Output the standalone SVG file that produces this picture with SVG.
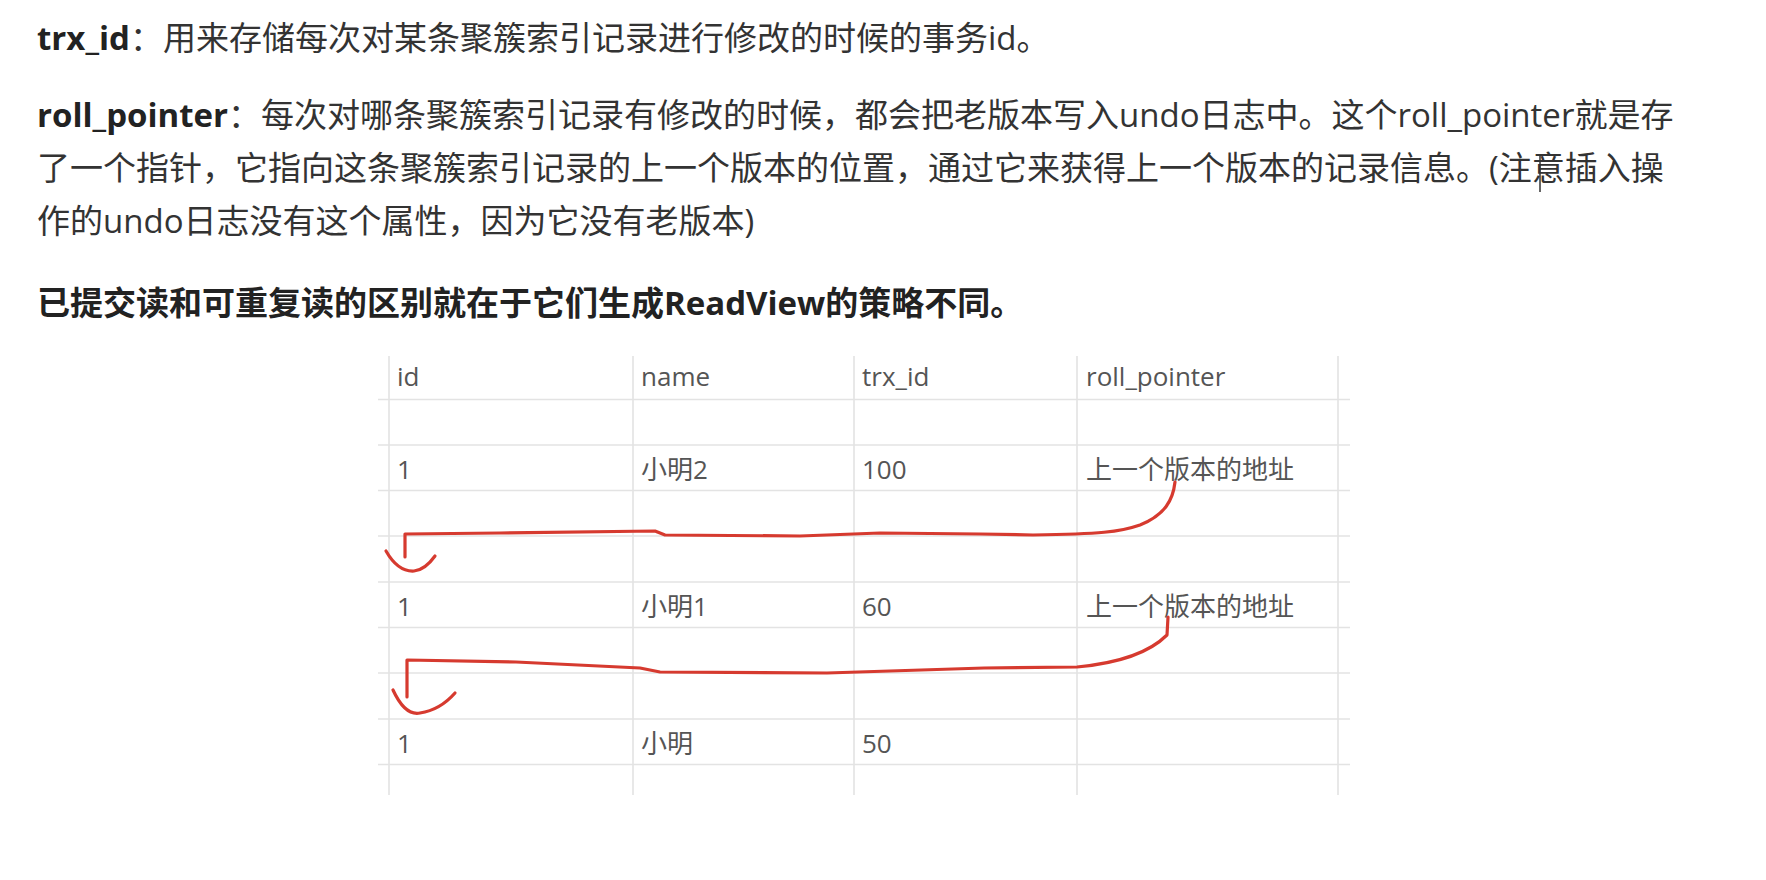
<svg xmlns="http://www.w3.org/2000/svg" width="1766" height="880" viewBox="0 0 1766 880">
<style>
.p{font-family:"Open Sans","Noto Sans CJK SC",sans-serif;font-size:33px;fill:#333}
.b{font-weight:bold;fill:#222}
.t{font-family:"Open Sans","Noto Sans CJK SC",sans-serif;font-size:26px;fill:#555}
.g{stroke:#e3e3e3;stroke-width:1.6;fill:none}
.r{stroke:#d63a2f;stroke-width:3.2;fill:none;stroke-linecap:round;stroke-linejoin:round}
</style>
<rect width="1766" height="880" fill="#ffffff"/>
<g id="text">
<text class="p" x="37" y="50"><tspan class="b">trx_id</tspan>：用来存储每次对某条聚簇索引记录进行修改的时候的事务id。</text>
<text class="p" x="37" y="127"><tspan class="b">roll_pointer</tspan>：每次对哪条聚簇索引记录有修改的时候，都会把老版本写入undo日志中。这个roll_pointer就是存</text>
<text class="p" x="37" y="180">了一个指针，它指向这条聚簇索引记录的上一个版本的位置，通过它来获得上一个版本的记录信息。(注意插入操</text>
<text class="p" x="37" y="233">作的undo日志没有这个属性，因为它没有老版本)</text>
<line x1="1540" y1="155" x2="1540" y2="192" stroke="#333" stroke-width="1.5"/>
<text class="p b" x="37" y="315">已提交读和可重复读的区别就在于它们生成ReadView的策略不同。</text>
</g>
<g id="table">
<g id="grid">
<line class="g" x1="389" y1="356" x2="389" y2="795"/>
<line class="g" x1="633" y1="356" x2="633" y2="795"/>
<line class="g" x1="854" y1="356" x2="854" y2="795"/>
<line class="g" x1="1077" y1="356" x2="1077" y2="795"/>
<line class="g" x1="1338" y1="356" x2="1338" y2="795"/>
<line class="g" x1="378" y1="399.5" x2="1350" y2="399.5"/>
<line class="g" x1="378" y1="445" x2="1350" y2="445"/>
<line class="g" x1="378" y1="490.5" x2="1350" y2="490.5"/>
<line class="g" x1="378" y1="536" x2="1350" y2="536"/>
<line class="g" x1="378" y1="582" x2="1350" y2="582"/>
<line class="g" x1="378" y1="627.5" x2="1350" y2="627.5"/>
<line class="g" x1="378" y1="673" x2="1350" y2="673"/>
<line class="g" x1="378" y1="719" x2="1350" y2="719"/>
<line class="g" x1="378" y1="764.5" x2="1350" y2="764.5"/>
</g>
<g id="header">
<text class="t" x="397" y="386">id</text>
<text class="t" x="641" y="386">name</text>
<text class="t" x="862" y="386">trx_id</text>
<text class="t" x="1086" y="386">roll_pointer</text>
</g>
<g id="row-v100">
<text class="t" x="397" y="479">1</text>
<text class="t" x="641" y="479">小明2</text>
<text class="t" x="862" y="479">100</text>
<text class="t" x="1086" y="479">上一个版本的地址</text>
</g>
<g id="row-v60">
<text class="t" x="397" y="616">1</text>
<text class="t" x="641" y="616">小明1</text>
<text class="t" x="862" y="616">60</text>
<text class="t" x="1086" y="616">上一个版本的地址</text>
</g>
<g id="row-v50">
<text class="t" x="397" y="753">1</text>
<text class="t" x="641" y="753">小明</text>
<text class="t" x="862" y="753">50</text>
</g>
</g>
<g id="connectors">
<path class="r" d="M1175 482 C1173 500 1165 515 1140 525 C1120 532 1100 534 1033 535 L980 534 L880 533 L800 536 L665 535 L655 531 L500 533 L405 534 L405 557"/>
<path class="r" d="M386 551 Q398 572 414 571 Q425 570 435 556"/>
<path class="r" d="M1168 617 L1167 635 C1150 652 1120 663 1077 667 L984 668 L827 673 L660 672 L640 668 L516 662 L407 660 L407 697"/>
<path class="r" d="M393 690 Q405 716 420 713 Q440 710 455 693"/>
</g>
</svg>
